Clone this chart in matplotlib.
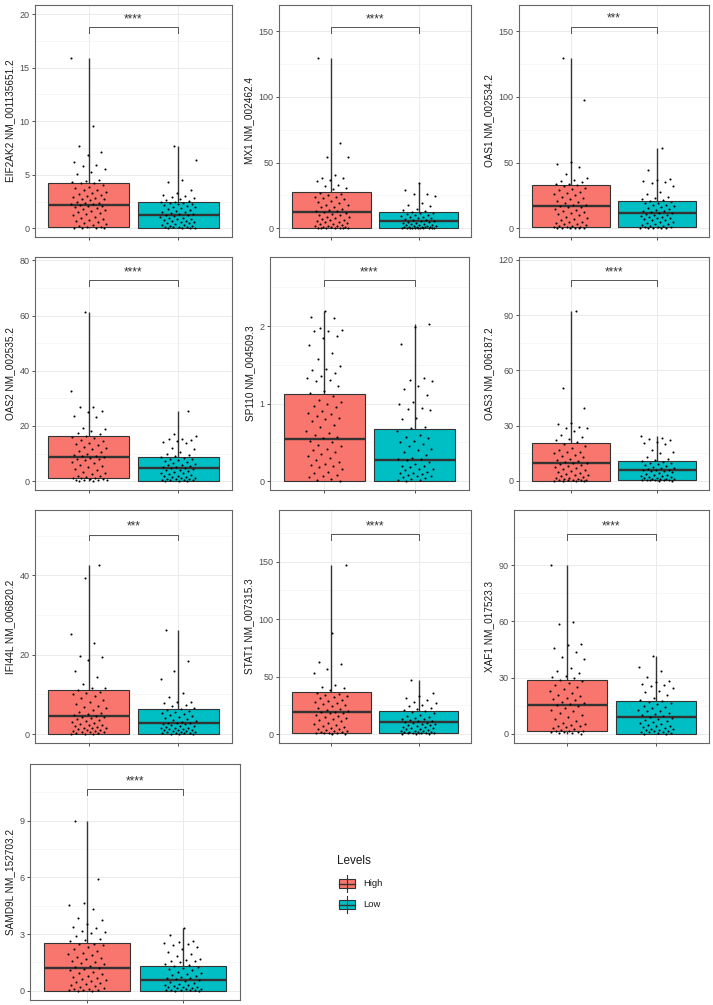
import numpy as np
import matplotlib.pyplot as plt
from matplotlib.patches import Rectangle

plt.rcParams['font.family'] = ['Liberation Sans', 'DejaVu Sans']

genes = ['EIF2AK2 NM_001135651.2', 'MX1 NM_002462.4', 'OAS1 NM_002534.2',
         'OAS2 NM_002535.2', 'SP110 NM_004509.3', 'OAS3 NM_006187.2',
         'IFI44L NM_006820.2', 'STAT1 NM_007315.3', 'XAF1 NM_017523.3',
         'SAMD9L NM_152703.2']
signif = ['****', '****', '***', '****', '****', '****', '***', '****', '****', '****']
levels = ['High', 'Low']

# box stats per gene: [min, q1, median, q3, max]
high_stats = [[0, 0.12, 2.17, 4.19, 15.87], [0, 0.3, 12.2, 27.4, 129.5],
              [0, 0.8, 16.7, 32.7, 129.5], [0, 1.0, 8.7, 16.4, 61.4],
              [0, 0, 0.547, 1.128, 2.19], [0, 0, 9.7, 20.7, 92.2],
              [0, 0, 4.66, 11.0, 42.6], [0, 1.1, 19.0, 36.5, 146.8],
              [0, 1.6, 15.5, 29.0, 89.8], [0, 0, 1.2, 2.54, 9.0]]
low_stats = [[0, 0, 1.21, 2.42, 7.7], [0, 0, 5.8, 12.4, 34.2],
             [0, 1.0, 11.7, 21.0, 60.8], [0, 0.2, 4.7, 8.7, 25.4],
             [0, 0, 0.27, 0.667, 2.03], [0, 0.5, 5.9, 11.1, 24.3],
             [0, 0, 2.75, 6.24, 26.2], [0, 0.5, 10.3, 20.1, 47.0],
             [0, 0, 9.0, 17.4, 41.8], [0, 0, 0.58, 1.32, 3.3]]

high_points = [
    [15.87, 9.55, 7.7, 7.15, 6.8, 6.2, 5.9, 5.85, 5.5, 5.25, 5.1, 4.5, 4.4, 4.3, 4.25, 4.2, 4.05, 3.9,
     3.75, 3.6, 3.55, 3.4, 3.3, 3.2, 3.1, 3.05, 2.95, 2.85, 2.75, 2.7, 2.6, 2.5, 2.4, 2.35, 2.3, 2.25,
     2.2, 2.1, 2.05, 1.95, 1.85, 1.8, 1.7, 1.6, 1.5, 1.4, 1.35, 1.2, 1.1, 1.0, 0.9, 0.8, 0.7, 0.6, 0.5,
     0.4, 0.3, 0.25, 0.15, 0.1, 0.05, 0.02, 0.0, 0.0],
    [129.5, 65.0, 54.5, 54.0, 40.5, 38.5, 38.0, 37.0, 36.0, 33.0, 32.0, 31.0, 30.0, 27.0, 26.0, 25.0,
     24.0, 23.5, 23.0, 22.0, 21.0, 20.0, 19.0, 18.0, 17.5, 16.5, 16.0, 15.0, 14.0, 13.5, 13.0, 12.5,
     12.0, 11.0, 10.5, 10.0, 9.0, 8.5, 8.0, 7.0, 6.5, 6.0, 5.5, 5.0, 4.5, 4.0, 3.5, 3.0, 2.5, 2.0, 1.8,
     1.5, 1.2, 1.0, 0.8, 0.6, 0.5, 0.4, 0.3, 0.2, 0.1, 0.0],
    [129.5, 98.0, 50.5, 49.0, 47.0, 41.0, 38.0, 36.5, 36.0, 35.0, 34.0, 33.5, 33.0, 32.0, 31.0, 30.0,
     29.0, 28.0, 27.0, 26.0, 25.0, 24.0, 23.0, 22.0, 21.0, 20.0, 19.0, 18.0, 17.5, 17.0, 16.5, 16.0,
     15.0, 14.0, 13.0, 12.5, 12.0, 11.0, 10.0, 9.0, 8.0, 7.0, 6.0, 5.0, 4.5, 4.0, 3.5, 3.0, 2.5, 2.0,
     1.5, 1.2, 1.0, 0.8, 0.6, 0.4, 0.3, 0.2, 0.1, 0.0],
    [61.4, 32.5, 27.0, 26.8, 25.5, 25.0, 23.5, 23.4, 19.2, 19.0, 18.0, 17.5, 17.0, 16.5, 16.0, 15.5,
     15.0, 14.5, 14.0, 13.5, 13.0, 12.5, 12.0, 11.5, 11.0, 10.5, 10.0, 9.5, 9.2, 9.0, 8.8, 8.5, 8.2,
     8.0, 7.5, 7.0, 6.5, 6.0, 5.5, 5.0, 4.5, 4.0, 3.5, 3.0, 2.5, 2.0, 1.8, 1.5, 1.3, 1.1, 1.0, 0.9,
     0.8, 0.6, 0.5, 0.4, 0.3, 0.2, 0.1],
    [2.19, 2.12, 2.1, 1.98, 1.95, 1.94, 1.93, 1.87, 1.85, 1.75, 1.65, 1.58, 1.49, 1.45, 1.43, 1.4,
     1.36, 1.33, 1.31, 1.29, 1.22, 1.16, 1.14, 1.1, 1.04, 1.02, 0.99, 0.97, 0.95, 0.9, 0.88, 0.86,
     0.84, 0.82, 0.8, 0.77, 0.72, 0.7, 0.65, 0.62, 0.6, 0.57, 0.55, 0.52, 0.5, 0.47, 0.45, 0.42, 0.4,
     0.37, 0.35, 0.32, 0.3, 0.27, 0.25, 0.22, 0.21, 0.2, 0.18, 0.15, 0.12, 0.1, 0.08, 0.07, 0.05,
     0.03, 0.02, 0.0],
    [92.2, 50.3, 39.7, 31.5, 31.0, 29.5, 29.0, 28.8, 27.4, 25.0, 24.0, 23.0, 22.5, 21.0, 20.0, 19.0,
     18.0, 17.0, 16.0, 15.5, 15.0, 14.0, 13.5, 13.0, 12.0, 11.5, 11.0, 10.5, 10.0, 9.5, 9.0, 8.5, 8.0,
     7.5, 7.0, 6.5, 6.0, 5.5, 5.0, 4.5, 4.0, 3.5, 3.0, 2.5, 2.0, 1.8, 1.5, 1.2, 1.0, 0.8, 0.6, 0.5,
     0.4, 0.3, 0.2, 0.1, 0.0, 0.0],
    [42.6, 39.4, 25.3, 22.9, 19.8, 19.5, 18.6, 16.0, 14.4, 12.5, 11.7, 11.5, 11.2, 10.5, 10.3, 10.0,
     9.5, 9.0, 8.5, 8.0, 7.5, 7.0, 6.8, 6.5, 6.0, 5.5, 5.2, 5.0, 4.8, 4.6, 4.4, 4.2, 4.0, 3.8, 3.5,
     3.2, 3.0, 2.8, 2.6, 2.4, 2.2, 2.0, 1.8, 1.6, 1.5, 1.4, 1.2, 1.0, 0.9, 0.8, 0.7, 0.6, 0.5, 0.4,
     0.3, 0.2, 0.1, 0.05, 0.0],
    [146.8, 88.0, 63.0, 61.0, 57.0, 53.0, 43.0, 41.0, 40.0, 38.0, 36.0, 35.0, 34.0, 33.0, 32.0, 31.0,
     30.0, 29.0, 28.0, 27.0, 26.0, 25.0, 24.0, 23.0, 22.0, 21.0, 20.0, 19.5, 19.0, 18.5, 18.0, 17.0,
     16.0, 15.0, 14.0, 13.0, 12.0, 11.0, 10.0, 9.0, 8.0, 7.0, 6.0, 5.0, 4.5, 4.0, 3.5, 3.0, 2.5, 2.0,
     1.5, 1.2, 1.0, 0.8, 0.5, 0.3, 0.1],
    [89.8, 59.5, 58.6, 48.0, 47.6, 46.0, 43.5, 41.0, 40.0, 35.0, 33.5, 32.5, 31.0, 30.5, 30.0, 29.0,
     28.0, 27.0, 26.0, 25.0, 24.0, 23.0, 22.0, 21.0, 20.0, 19.0, 18.5, 18.0, 17.0, 16.5, 16.0, 15.5,
     15.0, 14.0, 13.0, 12.0, 11.0, 10.0, 9.0, 8.0, 7.0, 6.0, 5.5, 5.0, 4.5, 4.0, 3.5, 3.0, 2.5, 2.0,
     1.8, 1.6, 1.4, 1.2, 1.0, 0.8, 0.5, 0.3, 0.1],
    [9.0, 5.9, 4.65, 4.55, 4.3, 3.85, 3.75, 3.55, 3.35, 3.3, 3.15, 3.1, 3.05, 2.9, 2.75, 2.7, 2.65,
     2.5, 2.45, 2.4, 2.3, 2.2, 2.1, 2.0, 1.95, 1.9, 1.8, 1.75, 1.7, 1.6, 1.5, 1.45, 1.4, 1.3, 1.25,
     1.2, 1.15, 1.1, 1.0, 0.95, 0.9, 0.8, 0.75, 0.7, 0.6, 0.55, 0.5, 0.45, 0.4, 0.35, 0.3, 0.25, 0.2,
     0.15, 0.1, 0.08, 0.05, 0.03, 0.02, 0.0, 0.0],
]

low_points = [
    [7.7, 6.4, 4.5, 4.3, 3.55, 3.3, 3.1, 3.05, 2.95, 2.85, 2.7, 2.6, 2.55, 2.5, 2.45, 2.4, 2.35, 2.3,
     2.25, 2.2, 2.1, 2.0, 1.95, 1.9, 1.8, 1.7, 1.6, 1.55, 1.5, 1.4, 1.35, 1.3, 1.25, 1.2, 1.15, 1.1,
     1.0, 0.95, 0.9, 0.85, 0.8, 0.7, 0.65, 0.6, 0.55, 0.5, 0.45, 0.4, 0.35, 0.3, 0.25, 0.2, 0.15,
     0.12, 0.1, 0.08, 0.05, 0.03, 0.02, 0.0],
    [34.2, 29.0, 26.5, 26.0, 24.5, 19.5, 18.0, 17.0, 15.0, 14.0, 13.0, 12.5, 12.0, 11.5, 11.0, 10.5,
     10.0, 9.5, 9.0, 8.5, 8.0, 7.5, 7.0, 6.5, 6.0, 5.8, 5.5, 5.0, 4.5, 4.0, 3.8, 3.5, 3.0, 2.8, 2.5,
     2.2, 2.0, 1.8, 1.5, 1.3, 1.2, 1.0, 0.9, 0.8, 0.7, 0.6, 0.5, 0.4, 0.3, 0.25, 0.2, 0.15, 0.1,
     0.05, 0.0, 0.0],
    [60.8, 44.5, 37.5, 36.5, 36.0, 35.5, 34.5, 32.0, 28.0, 26.0, 24.0, 23.0, 22.0, 21.5, 20.5, 20.0,
     19.5, 19.0, 18.0, 17.5, 17.0, 16.0, 15.5, 15.0, 14.0, 13.5, 13.0, 12.5, 12.0, 11.5, 11.0, 10.5,
     10.0, 9.5, 9.0, 8.5, 8.0, 7.5, 7.0, 6.5, 6.0, 5.0, 4.5, 4.0, 3.5, 3.0, 2.5, 2.0, 1.5, 1.2, 1.0,
     0.8, 0.5, 0.3, 0.2, 0.1, 0.0],
    [25.4, 17.0, 16.5, 15.3, 15.2, 15.0, 14.5, 14.3, 14.0, 12.0, 11.5, 10.5, 10.0, 9.5, 9.0, 8.8, 8.5,
     8.2, 8.0, 7.5, 7.2, 7.0, 6.5, 6.2, 6.0, 5.8, 5.5, 5.2, 5.0, 4.8, 4.6, 4.4, 4.2, 4.0, 3.6, 3.2,
     3.0, 2.8, 2.5, 2.3, 2.0, 1.8, 1.6, 1.4, 1.2, 1.0, 0.9, 0.8, 0.7, 0.6, 0.5, 0.4, 0.3, 0.2, 0.1,
     0.05],
    [2.03, 1.99, 1.77, 1.33, 1.31, 1.29, 1.22, 1.19, 1.11, 1.02, 0.99, 0.94, 0.93, 0.92, 0.82, 0.8,
     0.7, 0.69, 0.65, 0.6, 0.57, 0.55, 0.52, 0.5, 0.48, 0.45, 0.42, 0.4, 0.37, 0.33, 0.3, 0.29, 0.28,
     0.27, 0.25, 0.22, 0.2, 0.19, 0.18, 0.16, 0.15, 0.14, 0.12, 0.11, 0.1, 0.09, 0.08, 0.07, 0.06,
     0.05, 0.04, 0.03, 0.02, 0.01, 0.0],
    [24.3, 23.5, 23.0, 22.0, 21.0, 20.5, 20.0, 17.0, 16.0, 15.0, 13.0, 12.0, 11.5, 11.0, 10.5, 10.0,
     9.5, 9.0, 8.5, 8.0, 7.5, 7.0, 6.8, 6.5, 6.2, 6.0, 5.8, 5.5, 5.2, 5.0, 4.5, 4.0, 3.5, 3.0, 2.8,
     2.5, 2.2, 2.0, 1.8, 1.5, 1.3, 1.1, 1.0, 0.9, 0.8, 0.7, 0.6, 0.5, 0.4, 0.3, 0.2, 0.1],
    [26.2, 18.5, 16.0, 13.8, 10.3, 9.4, 8.2, 8.0, 7.8, 7.3, 7.0, 6.6, 6.2, 6.0, 5.8, 5.5, 5.2, 5.0,
     4.8, 4.5, 4.2, 4.0, 3.8, 3.5, 3.3, 3.0, 2.9, 2.8, 2.7, 2.6, 2.5, 2.3, 2.1, 2.0, 1.8, 1.6, 1.5,
     1.4, 1.3, 1.2, 1.1, 1.0, 0.9, 0.8, 0.7, 0.6, 0.5, 0.4, 0.3, 0.25, 0.2, 0.15, 0.1, 0.05, 0.0],
    [47.0, 36.0, 33.0, 31.0, 30.0, 28.0, 27.0, 25.0, 24.0, 23.0, 22.0, 21.0, 20.0, 19.0, 18.0, 17.0,
     16.0, 15.0, 14.0, 13.5, 13.0, 12.0, 11.5, 11.0, 10.5, 10.0, 9.5, 9.0, 8.5, 8.0, 7.5, 7.0, 6.5,
     6.0, 5.5, 5.0, 4.5, 4.0, 3.5, 3.0, 2.8, 2.5, 2.2, 2.0, 1.8, 1.5, 1.2, 1.0, 0.8, 0.6, 0.5, 0.3,
     0.2, 0.1],
    [41.8, 35.6, 33.5, 30.5, 28.0, 27.5, 26.5, 26.0, 25.5, 24.5, 23.0, 22.5, 21.0, 19.0, 18.0, 17.5,
     17.0, 16.5, 16.0, 15.0, 14.5, 14.0, 13.0, 12.5, 12.0, 11.0, 10.5, 10.0, 9.5, 9.0, 8.5, 8.0, 7.5,
     7.0, 6.5, 6.0, 5.5, 5.0, 4.5, 4.0, 3.5, 3.0, 2.8, 2.5, 2.2, 2.0, 1.8, 1.5, 1.2, 1.0, 0.8, 0.5,
     0.3, 0.1, 0.0],
    [3.3, 2.95, 2.65, 2.6, 2.55, 2.45, 2.4, 2.3, 2.2, 2.05, 1.95, 1.85, 1.7, 1.65, 1.6, 1.55, 1.5,
     1.4, 1.35, 1.3, 1.25, 1.2, 1.15, 1.1, 1.0, 0.95, 0.9, 0.85, 0.8, 0.75, 0.7, 0.65, 0.6, 0.55, 0.5,
     0.45, 0.4, 0.35, 0.3, 0.28, 0.25, 0.22, 0.2, 0.18, 0.15, 0.12, 0.1, 0.08, 0.06, 0.05, 0.04, 0.03,
     0.02, 0.01, 0.0],
]

y_ticks = [[0, 5, 10, 15, 20], [0, 50, 100, 150], [0, 50, 100, 150], [0, 20, 40, 60, 80],
           [0, 1, 2], [0, 30, 60, 90, 120], [0, 20, 40], [0, 50, 100, 150], [0, 30, 60, 90],
           [0, 3, 6, 9]]
y_limits = [(-0.81, 20.84), (-6.6, 170), (-6.6, 170), (-3.2, 81.2), (-0.115, 2.89),
            (-4.9, 121.6), (-2.26, 56.5), (-7.8, 195), (-4.8, 119.3), (-0.49, 12.0)]
# bracket: (line level, tick bottom)
brackets = [(18.76, 18.26), (153, 149), (153.5, 149), (72.7, 70.8), (2.59, 2.52),
            (108.9, 106), (50.3, 49), (173.8, 169.3), (106.3, 103.5), (10.66, 10.38)]

colors = ['#F8766D', '#00BFC4']

W, H = 713, 1005
# panel rectangles in pixels: left, top, right, bottom
panels = [(35, 5, 232, 237), (279, 5, 471, 237), (519, 5, 709, 237),
          (35, 257, 232, 490), (270, 257, 469, 490), (519, 257, 709, 490),
          (35, 510, 232, 743), (279, 510, 471, 743), (514, 510, 709, 743),
          (30, 764, 240, 1000)]

fig = plt.figure(figsize=(W / 100, H / 100), dpi=100)


def jitter(n, phase):
    return 0.2 * (2 * ((np.arange(n) * 0.6180339887 + phase) % 1.0) - 1)


def draw_box(ax, x, stats, color, width=0.9):
    lo, q1, med, q3, hi = stats
    ax.plot([x, x], [q3, hi], color='#333333', lw=1.0, zorder=1.5, solid_capstyle='butt')
    ax.plot([x, x], [lo, q1], color='#333333', lw=1.0, zorder=1.5, solid_capstyle='butt')
    ax.add_patch(Rectangle((x - width / 2, q1), width, q3 - q1, facecolor=color,
                           edgecolor='#333333', lw=0.8, zorder=2))
    ax.plot([x - width / 2, x + width / 2], [med, med], color='#333333', lw=1.7, zorder=2.5,
            solid_capstyle='butt')


for i, gene in enumerate(genes):
    l, t, r, b = panels[i]
    ax = fig.add_axes([l / W, 1 - b / H, (r - l) / W, (b - t) / H])
    ticks = y_ticks[i]
    step = ticks[1] - ticks[0]
    ax.set_yticks(ticks)
    ax.set_yticks([v + step / 2 for v in [ticks[0] - step] + ticks], minor=True)
    ax.set_xticks([1, 2])
    ax.set_xticklabels([])
    ax.grid(True, which='major', color='#EBEBEB', lw=0.7, zorder=0)
    ax.yaxis.grid(True, which='minor', color='#F2F2F2', lw=0.4, zorder=0)
    ax.set_axisbelow(True)
    ax.tick_params(which='major', length=2.5, width=0.6, color='#333333', labelsize=6.5,
                   labelcolor='#4D4D4D', pad=1.5)
    ax.tick_params(which='minor', length=0)
    for sp in ax.spines.values():
        sp.set_color('#666666')
        sp.set_linewidth(0.8)
    ax.set_ylabel(gene, fontsize=7.2, color='#1A1A1A', labelpad=3)

    for k, (stats, pts) in enumerate([(high_stats[i], high_points[i]), (low_stats[i], low_points[i])]):
        x0 = k + 1
        draw_box(ax, x0, stats, colors[k])
        pts = np.array(pts)
        ax.scatter(x0 + jitter(len(pts), 0.13 * i + 0.37 * k), pts, s=2.2, color='black',
                   linewidths=0, zorder=3)

    top, bot = brackets[i]
    ax.plot([1, 1, 2, 2], [bot, top, top, bot], color='#555555', lw=0.7, zorder=3)
    ax.annotate(signif[i], xy=(1.5, top), xytext=(0, 1.5), textcoords='offset points',
                ha='center', va='bottom', fontsize=8.5, color='#333333')
    # limits last, after ticks so they stay fixed
    ax.set_xlim(0.4, 2.6)
    ax.set_ylim(*y_limits[i])

# legend
lg = fig.add_axes([0, 0, 1, 1])
lg.set_xlim(0, W)
lg.set_ylim(H, 0)
lg.axis('off')
lg.text(336.5, 861, 'Levels', fontsize=8.5, ha='left', va='center', color='#1A1A1A')
for k, (lab, yc) in enumerate(zip(levels, [883.5, 904.5])):
    lg.plot([347, 347], [yc - 8.5, yc + 8.5], color='#333333', lw=0.8)
    lg.add_patch(Rectangle((339, yc - 4.8), 16, 9.6, facecolor=colors[k], edgecolor='#333333', lw=0.8))
    lg.plot([339, 355], [yc, yc], color='#333333', lw=1.0)
    lg.text(363, yc, lab, fontsize=6.8, ha='left', va='center', color='#1A1A1A')

fig.savefig('out.png', dpi=100)
